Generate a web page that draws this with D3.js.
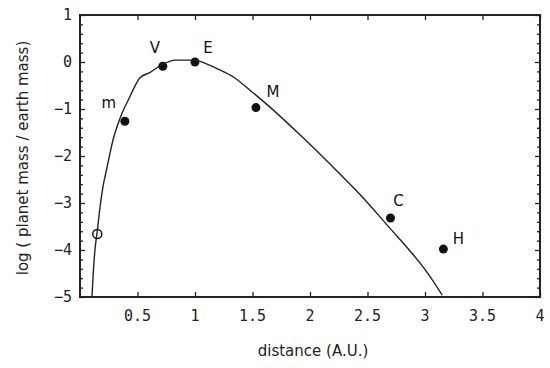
<!DOCTYPE html>
<html>
<head>
<meta charset="utf-8">
<script src="https://d3js.org/d3.v7.min.js"></script>
<style>
  body { margin: 0; background: #fff; }
  .tick-label { font: 15px "DejaVu Sans Mono", monospace; fill: #222; }
  .titulo { font: 15px "DejaVu Sans", sans-serif; fill: #222; }
  .rotulo { font: 15px "DejaVu Sans", sans-serif; fill: #111; }
</style>
</head>
<body>
<div id="chart"></div>
<script>
"use strict"
// planetas: distancia (A.U.) e log da massa
var nomes = ["O", "m", "V", "E", "M", "C", "H"];
var distancias = [0.15, 0.39, 0.72, 1.0, 1.53, 2.70, 3.16];
var logMassas = [-3.66, -1.26, -0.09, 0.0, -0.97, -3.32, -3.98];
var abertos = [true, false, false, false, false, false, false];

// curva ajustada
var curvaX = [0.104, 0.115, 0.13, 0.15, 0.174, 0.20, 0.23, 0.26, 0.287, 0.33, 0.365, 0.42, 0.47, 0.52, 0.61, 0.71, 0.83, 1.0, 1.1, 1.2, 1.34, 1.478, 1.652, 1.913, 2.174, 2.435, 2.70, 2.87, 3.02, 3.15];
var curvaY = [-5.0, -4.5, -4.0, -3.6, -3.09, -2.65, -2.3, -1.95, -1.66, -1.32, -1.09, -0.81, -0.55, -0.34, -0.22, -0.06, 0.04, 0.04, -0.04, -0.15, -0.33, -0.60, -0.96, -1.55, -2.17, -2.82, -3.55, -4.02, -4.48, -4.96];

var xTicks = [0.5, 1, 1.5, 2, 2.5, 3, 3.5, 4];
var yTicks = [1, 0, -1, -2, -3, -4, -5];

var larguraSVG = 550, alturaSVG = 368;
var margin = {top: 15, right: 10, bottom: 71, left: 80};
var larguraVis = larguraSVG - margin.left - margin.right,
    alturaVis = alturaSVG - margin.top - margin.bottom;

var svg = d3.select('#chart').append('svg')
  .attr('width', larguraSVG).attr('height', alturaSVG);
var grafico = svg.append('g')
  .attr('transform', 'translate(' + margin.left + ',' + margin.top + ')');

var x = d3.scaleLinear().domain([0, 4]).range([0, larguraVis]);
var y = d3.scaleLinear().domain([-5, 1]).range([alturaVis, 0]);

// moldura
grafico.append('rect')
  .attr('width', larguraVis).attr('height', alturaVis)
  .attr('fill', 'none').attr('stroke', '#222').attr('stroke-width', 2);

// ticks para dentro, nos quatro lados
var yMenores = d3.range(-4.8, 1, 0.2).filter(v => Math.abs(v - Math.round(v)) > 1e-6);

function eixo(gerador, escala, maiores, menores, transf) {
  var g1 = grafico.append('g').attr('transform', transf)
    .call(gerador(escala).tickValues(maiores).tickSize(-5).tickFormat(''));
  var g2 = grafico.append('g').attr('transform', transf)
    .call(gerador(escala).tickValues(menores).tickSize(-3).tickFormat(''));
  [g1, g2].forEach(g => {
    g.select('.domain').remove();
    g.selectAll('line').attr('stroke', '#222').attr('stroke-width', 1.3);
  });
}
eixo(d3.axisBottom, x, xTicks, [], 'translate(0,' + alturaVis + ')');
eixo(d3.axisTop, x, xTicks, [], 'translate(0,0)');
eixo(d3.axisLeft, y, yTicks, yMenores, 'translate(0,0)');
eixo(d3.axisRight, y, yTicks, yMenores, 'translate(' + larguraVis + ',0)');

// rotulos dos ticks
grafico.selectAll('.xl').data(xTicks).enter().append('text')
  .attr('class', 'tick-label')
  .attr('x', d => x(d)).attr('y', alturaVis + 24)
  .attr('text-anchor', 'middle')
  .text(d => d);
grafico.selectAll('.yl').data(yTicks).enter().append('text')
  .attr('class', 'tick-label')
  .attr('x', -8).attr('y', d => y(d) + 5)
  .attr('text-anchor', 'end')
  .text(d => d < 0 ? '\u2212' + Math.abs(d) : d);

// pontos (antes da curva, para a curva passar por cima do circulo aberto)
var planetas = nomes.map((n, i) => ({nome: n, d: distancias[i], m: logMassas[i], aberto: abertos[i]}));
grafico.selectAll('circle.p').data(planetas).enter().append('circle')
  .attr('cx', d => x(d.d)).attr('cy', d => y(d.m))
  .attr('r', 4.5)
  .attr('fill', d => d.aberto ? 'none' : '#111')
  .attr('stroke', '#111').attr('stroke-width', d => d.aberto ? 1.5 : 0);

// curva
var curva = curvaX.map((d, i) => [d, curvaY[i]]);
grafico.append('path')
  .datum(curva)
  .attr('fill', 'none').attr('stroke', '#222').attr('stroke-width', 1.4)
  .attr('d', d3.line().x(d => x(d[0])).y(d => y(d[1])).curve(d3.curveMonotoneX));

// letras dos planetas
var desloc = {O: [0, 0], m: [-16, -18], V: [-8, -18], E: [13, -14], M: [17, -16], C: [8, -17], H: [15, -10]};
grafico.selectAll('text.r').data(planetas.filter(p => p.nome != 'O')).enter().append('text')
  .attr('class', 'rotulo')
  .attr('x', d => x(d.d) + desloc[d.nome][0])
  .attr('y', d => y(d.m) + desloc[d.nome][1] + 5)
  .attr('text-anchor', 'middle')
  .text(d => d.nome);

// titulos
grafico.append('text').attr('class', 'titulo')
  .attr('x', larguraVis / 2 + 3).attr('y', alturaVis + 59)
  .attr('text-anchor', 'middle')
  .text('distance (A.U.)');
grafico.append('text').attr('class', 'titulo')
  .attr('transform', 'translate(-52,' + (alturaVis / 2 + 2) + ') rotate(-90)')
  .attr('text-anchor', 'middle')
  .text('log ( planet mass / earth mass)');
</script>
</body>
</html>
